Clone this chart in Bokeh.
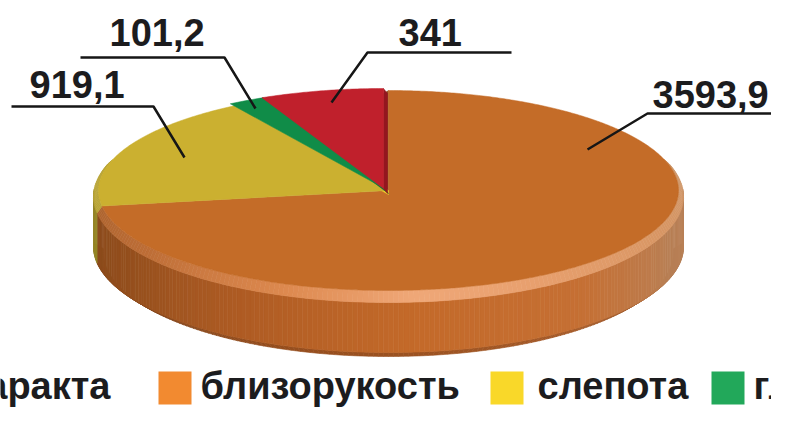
import numpy as np
from bokeh.plotting import figure
from bokeh.models import Range1d
from bokeh.core.properties import value
from bokeh.embed import file_html
from bokeh.resources import INLINE

# ---------------- data ----------------
categories = ["катаракта", "близорукость", "слепота", "глаукома"]
values = [341.0, 3593.9, 919.1, 101.2]
value_labels = ["341", "3593,9", "919,1", "101,2"]

# ---------------- styling / layout ----------------
top_colors = ["#C0202C", "#C46C28", "#CBB030", "#108C48"]
wall_colors = ["#94161F", "#8A5020", "#F2D12C", "#0B6A36"]
legend_colors = ["#D42A2E", "#F28A30", "#F9D829", "#22A85A"]
explode = [(-5, -2), (0, 0), (0, 0), (-4, -2)]
wall_offset = [(4, 5), (-5, 3), (0, 4), (4, 5)]
wall_edge = ["end", "start", "end", "end"]

CX, CY, RX, RY = 388.0, 190.0, 290.0, 100.0
E1 = (CX, CY + 6, RX + 5, RY + 6)      # outer edge of top bevel
E2 = (CX, CY + 56, RX + 5, RY + 6)     # bottom of vertical side
E3 = (CX, CY + 62, RX - 5, RY + 4)     # bottom bevel
total = sum(values)
START_DEG = 360.0 - values[0] / total * 360.0

TEXT_DY = -13   # renderer places the alphabetic baseline lower than the anchor
label_pos = [(398, 45), (652, 107), (29, 97), (109, 45)]
leader_pts = [
    [(511, 52), (367, 52), (331, 102)],
    [(790, 113), (647, 113), (587, 149)],
    [(11, 106), (153, 106), (184, 157)],
    [(80, 57), (224, 57), (255, 108)],
]
legend_square_x = [-60, 158, 490, 711]
legend_text_x = [110, 200, 537, 753]
legend_text_align = ["right", "left", "left", "left"]
LEG_BASE = 398
LEG_TOP, LEG_BOT = 371, 404

FONT = value("Liberation Sans")

# ---------------- geometry ----------------
fr = [v / total * 360.0 for v in values]
starts, ends = [], []
a = START_DEG
for f in fr:
    starts.append(a)
    ends.append(a + f)
    a += f


def ept(e, th):
    cx, cy, rx, ry = e
    t = np.radians(th)
    return cx + rx * np.sin(t), cy - ry * np.cos(t)


def slice_at(th):
    th = th % 360.0
    for i in range(len(values)):
        s, e = starts[i] % 360.0, ends[i] % 360.0
        if s <= e:
            if s <= th < e:
                return i
        else:
            if th >= s or th < e:
                return i
    return 1


def interp(keys, th):
    ds = [k[0] for k in keys]
    cols = np.array([k[1] for k in keys], dtype=float)
    r = np.interp(th, ds, cols[:, 0])
    g = np.interp(th, ds, cols[:, 1])
    b = np.interp(th, ds, cols[:, 2])
    return "#%02x%02x%02x" % (int(r), int(g), int(b))


side_keys = {
    1: [(75, (182, 132, 94)), (110, (186, 128, 85)), (140, (198, 112, 52)),
        (175, (196, 106, 42)), (210, (175, 92, 36)), (240, (150, 80, 30)), (285, (128, 70, 28))],
    2: [(0, (150, 135, 40)), (360, (150, 135, 40))],
}
bevel_keys = {
    1: [(75, (205, 152, 108)), (110, (215, 150, 100)), (150, (232, 160, 110)),
        (175, (240, 168, 120)), (200, (222, 138, 80)), (235, (190, 110, 55)), (285, (160, 92, 40))],
    2: [(0, (185, 165, 55)), (360, (185, 165, 55))],
}
bottom_keys = {
    1: [(75, (150, 105, 70)), (140, (165, 90, 40)), (200, (150, 78, 30)), (285, (110, 60, 24))],
    2: [(0, (120, 105, 30)), (360, (120, 105, 30))],
}


def ring(e_a, e_b, t0, t1, keys, step=1.0):
    xs, ys, cs = [], [], []
    th = t0
    while th < t1 - 1e-9:
        th2 = min(th + step, t1)
        idx = slice_at((th + th2) / 2)
        k = keys.get(idx, keys[1])
        p1 = ept(e_a, th); p2 = ept(e_a, th2)
        p3 = ept(e_b, th2); p4 = ept(e_b, th)
        xs.append([p1[0], p2[0], p3[0], p4[0]])
        ys.append([p1[1], p2[1], p3[1], p4[1]])
        cs.append(interp(k, (th + th2) / 2))
        th = th2
    return xs, ys, cs


# ---------------- figure ----------------
p = figure(width=771, height=407, x_range=Range1d(0, 771), y_range=Range1d(407, 0),
           x_axis_type=None, y_axis_type=None, toolbar_location=None,
           output_backend="svg", min_border=0, outline_line_color=None,
           background_fill_color="white", border_fill_color="white")
p.grid.visible = False

E0 = (CX, CY, RX, RY)
for (ea, eb, t0, t1, keys) in [
    (E2, E3, 88, 272, bottom_keys),
    (E1, E2, 86, 274, side_keys),
    (E0, E1, 72, 288, bevel_keys),
]:
    xs, ys, cs = ring(ea, eb, t0, t1, keys)
    p.patches(xs, ys, fill_color=cs, line_color=cs, line_width=0.6)


def face_poly(i):
    dx, dy = explode[i]
    e = (CX + dx, CY + dy, RX, RY)
    ths = np.linspace(starts[i], ends[i], max(int((ends[i] - starts[i]) * 2), 4))
    xs = [CX + dx] + [ept(e, t)[0] for t in ths]
    ys = [CY + dy] + [ept(e, t)[1] for t in ths]
    return xs, ys


def wall_poly(i):
    dx, dy = explode[i]
    e = (CX + dx, CY + dy, RX, RY)
    th = ends[i] if wall_edge[i] == "end" else starts[i]
    ox, oy = wall_offset[i]
    rx_, ry_ = ept(e, th)
    ax, ay = CX + dx, CY + dy
    return [ax, rx_, rx_ + ox, ax + ox], [ay, ry_, ry_ + oy, ay + oy]


for i in [1, 2, 3, 0]:
    wx, wy = wall_poly(i)
    p.patch(wx, wy, fill_color=wall_colors[i], line_color=wall_colors[i], line_width=0.5)
    fx, fy = face_poly(i)
    p.patch(fx, fy, fill_color=top_colors[i], line_color=top_colors[i], line_width=0.5)

# leader lines and value labels
p.multi_line([[q[0] for q in pts] for pts in leader_pts],
             [[q[1] for q in pts] for pts in leader_pts],
             line_color="#161616", line_width=2.5)
p.text(x=[q[0] for q in label_pos], y=[q[1] + TEXT_DY for q in label_pos], text=value_labels,
       text_font=FONT, text_font_style="bold", text_font_size="38px",
       text_color="#1c1c1e", text_baseline="alphabetic", text_align="left")

# legend
p.quad(left=legend_square_x, right=[x + 33 for x in legend_square_x],
       top=[LEG_TOP] * 4, bottom=[LEG_BOT] * 4, fill_color=legend_colors, line_color=None)
for i in range(4):
    p.text(x=[legend_text_x[i]], y=[LEG_BASE + TEXT_DY], text=[categories[i]],
           text_font=FONT, text_font_style="bold", text_font_size="38px",
           text_color="#1c1c1e", text_baseline="alphabetic", text_align=legend_text_align[i])

open("out.html", "w").write(file_html(p, INLINE))
